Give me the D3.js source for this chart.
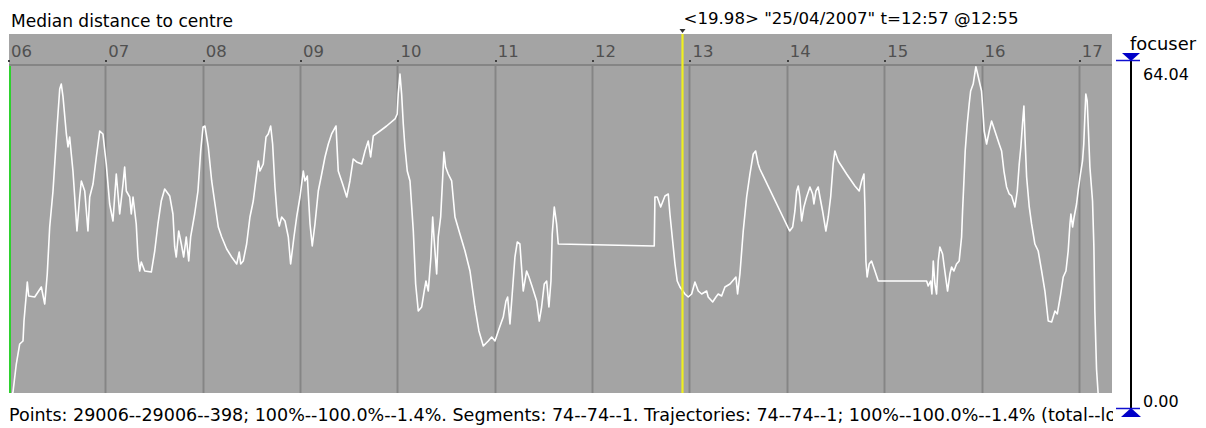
<!DOCTYPE html>
<html><head><meta charset="utf-8">
<script src="https://cdn.jsdelivr.net/npm/d3@7"></script>
<style>
html,body{margin:0;padding:0;background:#fff;}
svg{display:block;font-family:"DejaVu Sans",Verdana,sans-serif;}
</style></head>
<body>
<svg id="chart" width="1206" height="428"></svg>
<script>
const title = "Median distance to centre";
const cursorText = "<19.98> \"25/04/2007\" t=12:57 @12:55";
const footerText = "Points: 29006--29006--398; 100%--100.0%--1.4%. Segments: 74--74--1. Trajectories: 74--74--1; 100%--100.0%--1.4% (total--lo";
const seriesName = "focuser";
const hourTicks = [6,7,8,9,10,11,12,13,14,15,16,17];
const timeDomain = [6, 17.33];
const valueDomain = [0, 64.04];
const cursorHour = 12 + 55/60;
// time in decimal hours
const hours = [6.031,6.041,6.075,6.110,6.144,6.154,6.178,6.188,6.202,6.264,6.332,6.367,6.393,6.418,6.452,6.496,6.521,6.537,6.555,6.589,6.606,6.623,6.657,6.675,6.698,6.726,6.743,6.778,6.811,6.829,6.863,6.897,6.932,6.965,6.999,7.034,7.068,7.102,7.137,7.171,7.188,7.205,7.240,7.256,7.274,7.307,7.325,7.342,7.359,7.394,7.462,7.497,7.530,7.564,7.599,7.651,7.684,7.702,7.718,7.743,7.770,7.794,7.821,7.846,7.866,7.907,7.941,7.969,7.993,8.013,8.047,8.082,8.116,8.150,8.185,8.236,8.287,8.339,8.365,8.380,8.406,8.441,8.475,8.509,8.544,8.561,8.578,8.612,8.640,8.663,8.688,8.708,8.732,8.756,8.776,8.801,8.835,8.869,8.893,8.927,8.955,8.989,9.023,9.040,9.064,9.092,9.115,9.143,9.177,9.212,9.246,9.280,9.314,9.359,9.382,9.427,9.469,9.502,9.536,9.571,9.623,9.657,9.690,9.715,9.742,9.811,9.879,9.965,9.988,9.998,10.016,10.033,10.050,10.067,10.091,10.119,10.153,10.177,10.204,10.239,10.265,10.283,10.307,10.334,10.352,10.368,10.393,10.409,10.434,10.455,10.468,10.485,10.512,10.547,10.581,10.632,10.684,10.735,10.786,10.827,10.872,10.923,10.958,10.992,11.033,11.077,11.105,11.122,11.146,11.169,11.197,11.221,11.248,11.282,11.317,11.341,11.375,11.420,11.447,11.471,11.498,11.523,11.546,11.567,11.580,11.601,11.625,11.642,12.628,12.635,12.659,12.694,12.738,12.772,12.789,12.817,12.841,12.864,12.892,12.943,12.977,13.012,13.046,13.080,13.115,13.166,13.182,13.228,13.262,13.285,13.320,13.354,13.406,13.467,13.484,13.508,13.542,13.577,13.611,13.645,13.669,13.696,13.713,14.019,14.050,14.073,14.091,14.107,14.124,14.142,14.165,14.193,14.227,14.255,14.268,14.289,14.312,14.330,14.357,14.391,14.415,14.440,14.466,14.484,14.518,14.604,14.689,14.733,14.758,14.782,14.792,14.802,14.815,14.836,14.860,14.895,14.929,15.426,15.442,15.467,15.480,15.494,15.511,15.528,15.545,15.562,15.590,15.603,15.621,15.641,15.665,15.682,15.706,15.733,15.760,15.785,15.795,15.809,15.822,15.843,15.863,15.878,15.904,15.932,15.945,15.973,15.990,16.001,16.017,16.042,16.069,16.093,16.127,16.171,16.196,16.220,16.247,16.274,16.299,16.333,16.357,16.377,16.394,16.412,16.425,16.436,16.453,16.480,16.504,16.538,16.572,16.607,16.641,16.675,16.710,16.744,16.768,16.803,16.829,16.857,16.880,16.898,16.908,16.925,16.941,16.966,16.982,17.006,17.027,17.040,17.051,17.061,17.075,17.085,17.103,17.130,17.144,17.154,17.171,17.188];
const distance = [0,0.58,6.03,9.93,10.51,14.40,19.66,22.00,19.27,19.08,21.02,17.71,23.55,32.70,39.71,52.75,59.56,60.53,58.01,50.81,48.28,50.22,43.60,38.54,31.92,38.54,41.66,39.71,31.92,38.54,41.07,46.33,51.39,50.81,44.97,37.18,33.87,43.02,35.23,41.07,44.38,39.71,38.54,35.23,38.54,33.29,26.86,24.14,25.89,24.14,23.94,28.03,33.29,37.76,40.10,38.74,35.23,28.81,26.86,31.92,29.39,26.86,30.76,26.08,30.76,35.23,39.71,47.50,52.17,52.36,48.28,41.66,37.18,32.70,30.76,28.42,26.86,25.50,27.84,25.50,26.08,29.39,34.65,37.76,43.02,45.55,43.60,44.97,50.22,50.81,52.36,48.86,40.49,34.65,32.90,34.65,33.87,30.76,25.50,30.76,34.65,38.54,43.60,41.66,42.63,33.29,29.00,33.29,39.71,43.02,46.33,48.86,50.81,52.36,43.60,41.07,38.54,41.66,45.94,45.36,44.97,47.50,49.44,46.33,50.42,51.39,52.36,53.73,54.70,58.59,62.49,58.59,52.75,48.28,43.60,41.66,31.92,21.61,16.35,17.13,20.24,22.19,20.24,26.86,34.65,29.98,23.55,30.76,34.65,42.44,47.30,44.38,43.02,41.66,34.65,31.34,28.03,24.14,17.13,12.46,9.54,10.51,11.29,10.51,12.85,15.18,18.30,19.08,13.82,19.66,26.86,29.78,29.39,20.24,24.14,22.97,21.02,18.30,14.40,17.13,21.61,22.19,17.13,22.19,31.34,36.60,33.29,29.39,29.00,38.54,38.54,36.60,38.74,39.13,35.23,29.98,25.50,22.19,21.02,19.66,19.08,19.66,22.00,20.24,19.66,20.24,19.08,18.10,19.08,19.66,19.27,21.02,21.61,22.97,19.66,23.55,31.92,38.54,43.02,46.91,47.50,44.97,43.99,31.92,32.70,35.82,39.71,40.68,38.54,33.87,36.60,38.54,40.49,39.13,37.18,39.71,40.49,38.54,35.82,31.92,34.65,38.54,44.97,47.50,45.55,43.02,40.68,39.71,41.66,43.02,36.60,26.08,22.97,25.50,26.08,24.14,22.19,22.19,21.22,22.19,19.66,26.08,21.61,19.66,26.08,28.81,27.45,25.50,22.97,20.24,23.55,24.92,24.14,25.50,26.08,30.76,35.82,41.66,47.50,52.75,56.65,59.18,60.53,63.90,62.88,60.53,59.18,56.06,51.39,48.86,51.39,53.34,51.39,48.86,47.50,43.60,40.49,39.13,38.74,36.60,39.71,44.97,48.28,53.14,56.26,50.22,42.44,36.60,33.29,29.39,28.03,24.14,20.24,14.40,14.21,16.35,15.77,19.66,22.97,24.14,28.03,33.29,35.23,32.70,34.65,37.18,39.71,43.02,45.55,48.86,54.12,58.59,57.23,52.75,44.38,37.76,28.81,16.35,5.06,0.19];

const svg = d3.select("#chart");
const gray = "#a4a4a4";
const plot = {left: 9, right: 1112, top: 34, axisY: 65, bottom: 393};

const x = d3.scaleLinear().domain(timeDomain).range([9, 1112]);
const y = d3.scaleLinear().domain(valueDomain).range([395, 66]);

function fitWidth(sel, target) {
  const fs = parseFloat(sel.attr("font-size"));
  const w = sel.node().getComputedTextLength();
  if (w > 0) sel.attr("font-size", (fs * target / w).toFixed(2));
  return sel;
}

// background
svg.append("rect").attr("x", plot.left).attr("y", plot.top)
  .attr("width", plot.right - plot.left).attr("height", plot.bottom - plot.top)
  .attr("fill", gray);

const defs = svg.append("defs");
defs.append("clipPath").attr("id","clip")
  .append("rect").attr("x", plot.left).attr("y", plot.axisY)
  .attr("width", plot.right - plot.left).attr("height", plot.bottom - plot.axisY);
defs.append("clipPath").attr("id","clipText")
  .append("rect").attr("x", 0).attr("y", 395).attr("width", 1113).attr("height", 40);

// axis line
svg.append("line").attr("x1", plot.left).attr("x2", plot.right)
  .attr("y1", plot.axisY).attr("y2", plot.axisY)
  .attr("stroke", "#858585").attr("stroke-width", 2);

// grid lines
svg.append("g").selectAll("line").data(hourTicks.slice(1)).join("line")
  .attr("x1", d => Math.round(x(d)) - 0.5).attr("x2", d => Math.round(x(d)) - 0.5)
  .attr("y1", plot.axisY).attr("y2", plot.bottom)
  .attr("stroke", "#858585").attr("stroke-width", 2);

// tick dots
svg.append("g").selectAll("rect").data(hourTicks).join("rect")
  .attr("x", d => Math.round(x(d)) - 1).attr("y", 60).attr("width", 2).attr("height", 2)
  .attr("fill", "#404040");

// tick labels
svg.append("g").selectAll("text").data(hourTicks).join("text")
  .attr("x", d => x(d) + 2).attr("y", 57)
  .attr("font-size", 16.5).attr("fill", "#505050")
  .text(d => d3.format("02d")(d));

// green start line
svg.append("line").attr("x1", 10).attr("x2", 10)
  .attr("y1", plot.axisY + 1).attr("y2", plot.bottom)
  .attr("stroke", "#2ed12e").attr("stroke-width", 2);

// data line
const pts = hours.map((h, i) => [h, distance[i]]);
svg.append("path").datum(pts)
  .attr("clip-path", "url(#clip)")
  .attr("fill", "none").attr("stroke", "#ffffff").attr("stroke-width", 1.6)
  .attr("stroke-linejoin", "round")
  .attr("d", d3.line().x(d => x(d[0])).y(d => y(d[1])));

// cursor
const cx = Math.round(x(cursorHour)) + 0.5;
svg.append("line").attr("x1", cx).attr("x2", cx)
  .attr("y1", plot.top).attr("y2", plot.bottom)
  .attr("stroke", "#f0f020").attr("stroke-width", 2.2);
svg.append("path")
  .attr("d", `M${cx-3},29 L${cx+3},29 L${cx},33 Z`).attr("fill", "#333");
fitWidth(svg.append("text").attr("x", cx + 1).attr("y", 24)
  .attr("font-size", 17).attr("fill", "#000").text(cursorText), 335);

// title
fitWidth(svg.append("text").attr("x", 11).attr("y", 27)
  .attr("font-size", 17).attr("fill", "#000").text(title), 222);

// right value axis
const ax = 1131;
svg.append("line").attr("x1", ax).attr("x2", ax).attr("y1", 58).attr("y2", 410)
  .attr("stroke", "#000").attr("stroke-width", 2);
svg.append("line").attr("x1", 1116).attr("x2", 1140).attr("y1", 60.5).attr("y2", 60.5)
  .attr("stroke", "#1010d0").attr("stroke-width", 1.5);
svg.append("path").attr("d", `M${ax-9},53 L${ax+9},53 L${ax},61 Z`).attr("fill", "#0000c8");
svg.append("line").attr("x1", 1116).attr("x2", 1140).attr("y1", 408.5).attr("y2", 408.5)
  .attr("stroke", "#1010d0").attr("stroke-width", 1.5);
svg.append("path").attr("d", `M${ax-10},417 L${ax+10},417 L${ax},408 Z`).attr("fill", "#0000c8");
fitWidth(svg.append("text").attr("x", 1130).attr("y", 50).attr("font-size", 16).text(seriesName), 66);
svg.append("text").attr("x", 1143).attr("y", 80).attr("font-size", 16).text(d3.format(".2f")(valueDomain[1]));
svg.append("text").attr("x", 1143).attr("y", 407).attr("font-size", 16).text(d3.format(".2f")(valueDomain[0]));

// footer
fitWidth(svg.append("text").attr("x", 9).attr("y", 421).attr("clip-path", "url(#clipText)")
  .attr("font-size", 17).attr("fill", "#000").text(footerText), 1108);
</script>
</body></html>
